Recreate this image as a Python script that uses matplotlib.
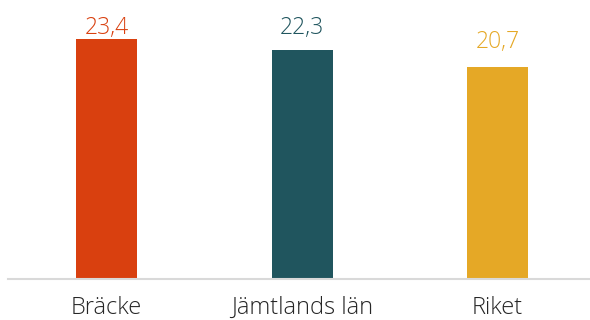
import matplotlib
matplotlib.use("Agg")
import matplotlib.pyplot as plt

categories = ["Bräcke", "Jämtlands län", "Riket"]
values = [23.4, 22.3, 20.7]
labels = ["23,4", "22,3", "20,7"]
colors = ["#D9400F", "#20555E", "#E5A826"]

# style: vertical gap (px) between bar top and label baseline
label_gap_px = [5, 16, 19]

FONT = dict(family="Open Sans", weight="light")

fig = plt.figure(figsize=(5.9, 3.2), dpi=100)
ax = fig.add_axes([8/590, 41/320, 582/590, 279/320])
x = list(range(len(categories)))
ax.bar(x, values, width=0.312, color=colors)
ax.set_xlim(-0.504, 2.473)
ax.set_ylim(0, 27.2)
for xi, v, lab, c, g in zip(x, values, labels, colors, label_gap_px):
    ax.annotate(lab, (xi, v), xytext=(0, g * 0.72), textcoords="offset points",
                ha="center", va="baseline", color=c, fontsize=16.5, **FONT)
for s in ["top", "right", "left"]:
    ax.spines[s].set_visible(False)
ax.spines["bottom"].set_color("#d9d9d9")
ax.spines["bottom"].set_linewidth(1.5)
ax.set_yticks([])
ax.set_xticks(x)
ax.set_xticklabels(categories, fontsize=17, color="#262626", **FONT)
ax.tick_params(axis="x", length=0, pad=12)
fig.savefig("out.png", dpi=100)
